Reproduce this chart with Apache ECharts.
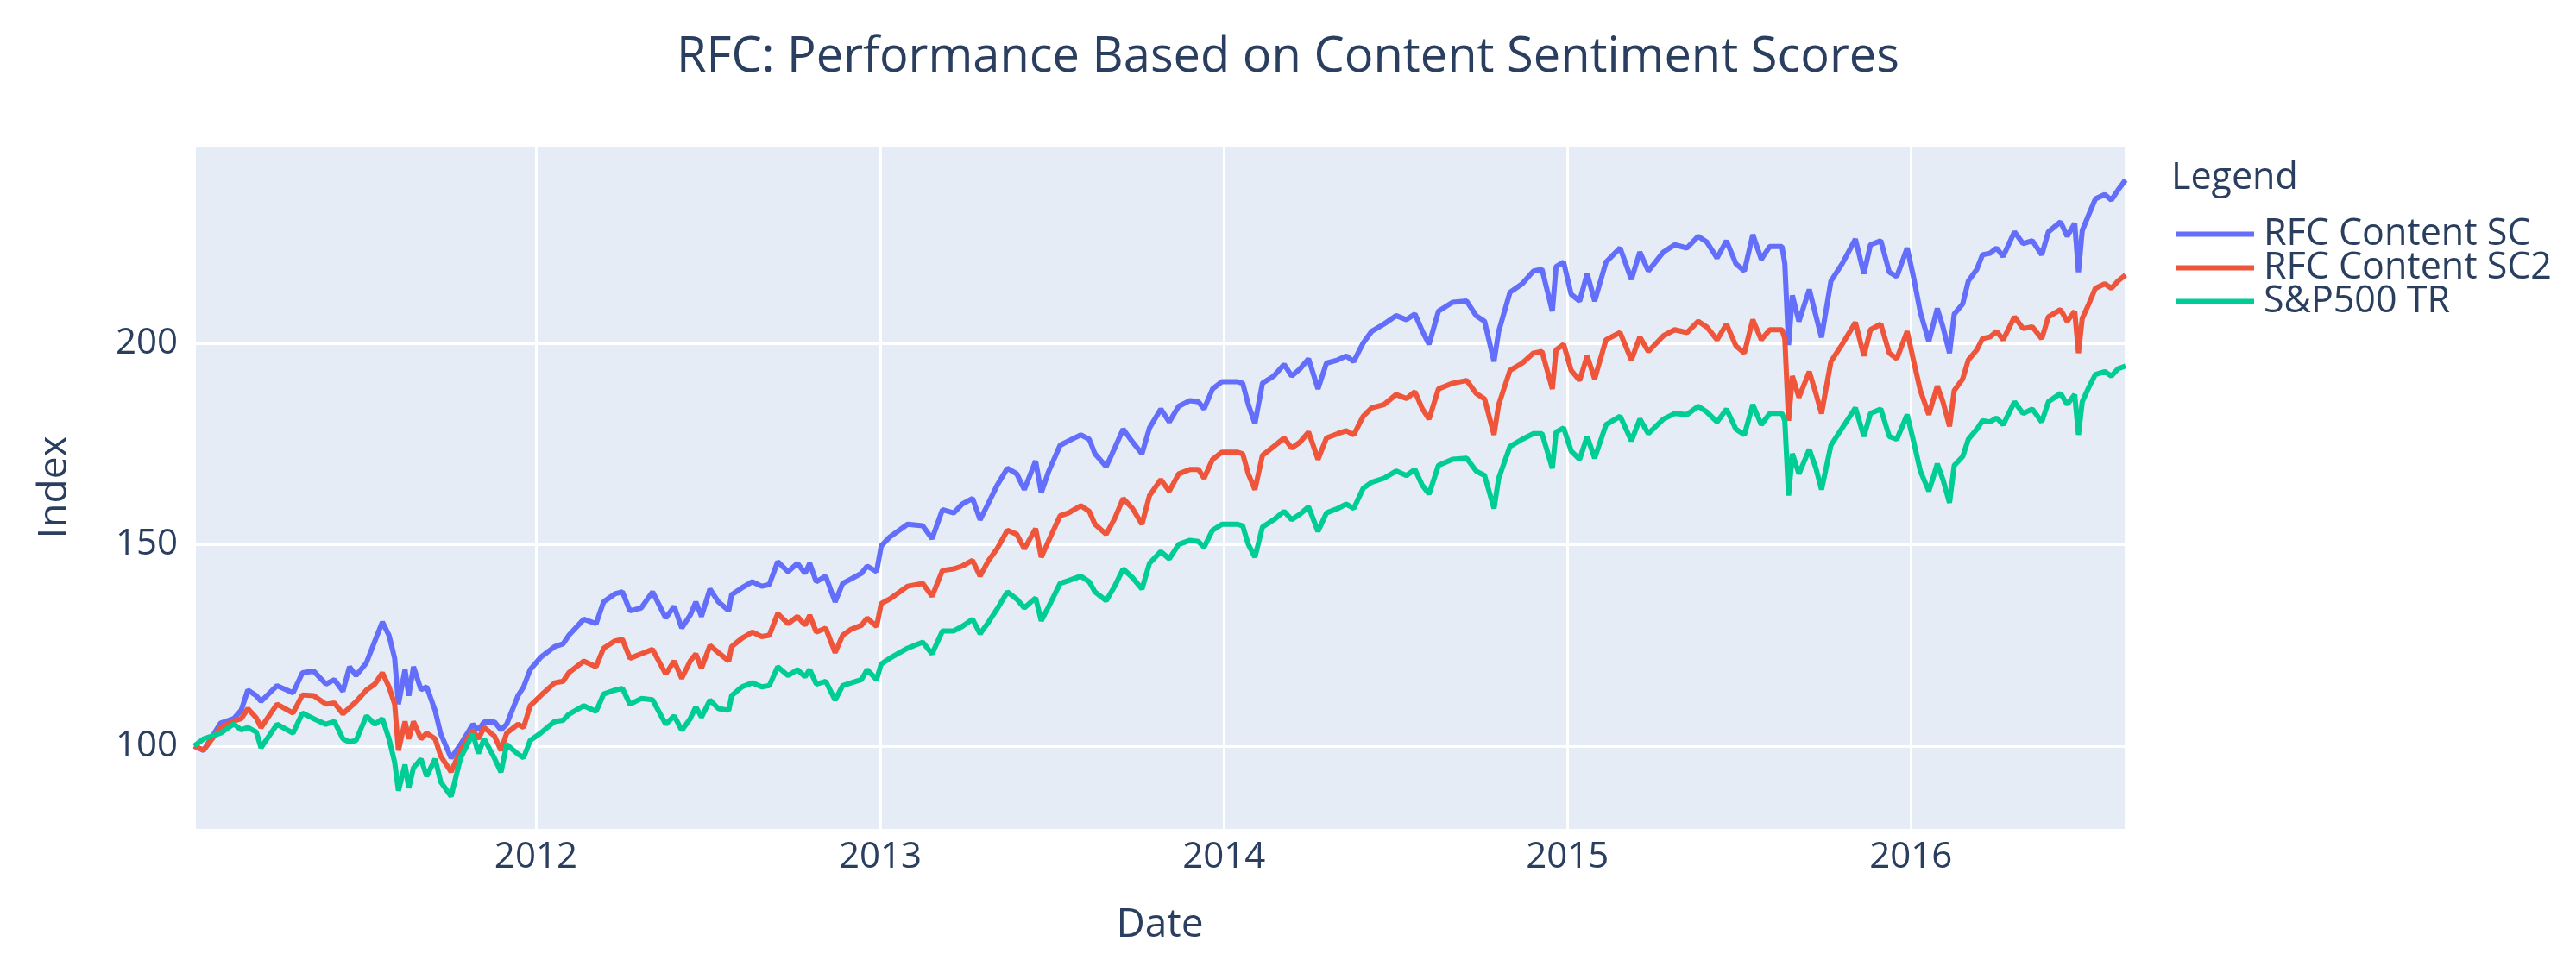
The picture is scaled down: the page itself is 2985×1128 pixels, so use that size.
<!DOCTYPE html>
<html>
<head>
<meta charset="utf-8">
<script src="https://cdn.jsdelivr.net/npm/echarts@6/dist/echarts.min.js"></script>
<style>html,body{margin:0;padding:0;background:#fff}#c{width:2985px;height:1128px}</style>
</head>
<body>
<div id="c"></div>
<script>
// ---- data ----
const seriesNames = ['RFC Content SC', 'RFC Content SC2', 'S&P500 TR'];

const dates2011 = ['2011-01-03','2011-01-13','2011-01-31','2011-02-14','2011-02-22','2011-03-01','2011-03-10','2011-03-15','2011-04-01','2011-04-18','2011-04-28','2011-05-10','2011-05-23','2011-06-01','2011-06-10','2011-06-17','2011-06-24','2011-07-05','2011-07-14','2011-07-22','2011-07-29','2011-08-04','2011-08-08','2011-08-15','2011-08-19','2011-08-24','2011-09-01','2011-09-07','2011-09-16','2011-09-22','2011-10-03','2011-10-13','2011-10-26','2011-11-01','2011-11-07','2011-11-18','2011-11-25','2011-12-01','2011-12-13'];
const sc2011  = [100,98.9,105.7,106.8,108.9,113.9,112.5,111.1,115,113.2,118.2,118.6,115.4,116.5,113.6,119.7,117.5,120.7,126.1,130.8,127.5,121.8,110.4,119,112.5,119.7,114,114.7,108.8,103,97,100.4,105.4,104,106,106,104,105.4,112.5];
const sc2_2011 = [100,99,104.6,106.2,106.8,109.3,107,104.6,110.4,108.2,112.7,112.5,110.4,110.7,108,109.5,111,113.9,115.4,118.2,114.7,110.4,98.9,106.1,101.8,106.1,101.8,103.2,101.8,97.5,93.6,98.9,103.9,101.8,104.6,102.5,98.9,103.2,105.4];
const sp2011  = [100,101.8,103.2,105.5,104,104.6,103.5,99.6,105.4,103.2,108.2,106.8,105.4,106.1,101.8,101,101.4,107.5,105.4,106.8,101.8,96,88.9,95.4,89.6,94.6,96.8,92.5,96.8,91.1,87.5,97,103,98.2,101.8,97,93.5,100.4,98];

const dates2012 = ['2011-12-19','2011-12-26','2012-01-06','2012-01-21','2012-01-30','2012-02-05','2012-02-21','2012-03-05','2012-03-13','2012-03-25','2012-04-02','2012-04-10','2012-04-22','2012-05-04','2012-05-18','2012-05-27','2012-06-04','2012-06-13','2012-06-19','2012-06-25','2012-07-04','2012-07-13','2012-07-24','2012-07-27','2012-08-07','2012-08-18','2012-08-28','2012-09-05','2012-09-14','2012-09-25','2012-10-05','2012-10-13','2012-10-18','2012-10-25','2012-11-04','2012-11-14','2012-11-22','2012-12-01','2012-12-12','2012-12-18','2012-12-28','2013-01-02'];
const sc2012  = [114.7,119,122,124.7,125.4,127.5,131.5,130.4,135.8,137.8,138.3,133.6,134.3,138.3,131.8,134.7,129.3,132.5,135.8,132.2,139,135.8,133.6,137.6,139.3,140.8,139.7,140.1,145.8,143.3,145.4,142.9,145.4,140.8,142.2,135.8,140.4,141.5,142.9,144.7,143.3,149.7];
const sc2_2012 = [104.6,110,112.5,115.7,116.1,118.2,121.1,119.7,124.3,126.1,126.5,121.8,122.9,124,117.9,121.1,116.8,121.1,122.9,119.3,125,123.2,121.1,124.7,126.8,128.3,127.2,127.5,132.9,130.4,132.2,130,132.5,128.3,129.3,123.2,127.5,129,130,131.8,129.7,135.4];
const sp2012  = [97.1,101.4,103.2,106.1,106.4,107.9,110,108.6,112.9,113.9,114.3,110.4,111.8,111.5,105.4,107.5,103.9,106.8,109.7,107.2,111.4,109.3,108.9,112.5,114.7,115.7,114.7,115,119.7,117.5,119,117.2,119,115.4,116.1,111.4,115,115.7,116.5,119,116.5,120.4];

const dates2013 = ['2013-01-11','2013-01-30','2013-02-15','2013-02-25','2013-03-08','2013-03-20','2013-03-29','2013-04-09','2013-04-17','2013-04-26','2013-05-05','2013-05-16','2013-05-26','2013-06-03','2013-06-15','2013-06-21','2013-06-29','2013-07-11','2013-07-20','2013-08-02','2013-08-11','2013-08-17','2013-08-29','2013-09-07','2013-09-16','2013-09-26','2013-10-06','2013-10-14','2013-10-26','2013-11-04','2013-11-14','2013-11-26','2013-12-05','2013-12-11','2013-12-20','2013-12-30'];
const sc2013  = [151.9,155.1,154.7,151.5,158.7,157.9,160.1,161.5,156.2,160.4,164.7,169,167.6,163.7,170.8,162.9,168.3,174.7,175.8,177.3,176.2,172.6,169.4,174,178.7,175.5,172.6,179,183.7,180.5,184.4,185.8,185.5,183.7,188.7,190.5];
const sc2_2013 = [136.5,139.7,140.4,137.2,143.6,144,144.7,146.1,142.2,146.1,149,153.6,152.6,149,154,146.9,151.1,157.2,157.9,159.7,158.3,155.1,152.6,156.5,161.5,159,155.1,162.2,166.2,163.3,167.6,168.7,168.7,166.5,171.2,173];
const sp2013  = [121.8,124.3,125.8,122.9,128.6,128.6,129.7,131.5,127.9,130.8,134,138.3,136.5,134.3,136.8,131.1,134.7,140.4,141.1,142.2,140.8,138.3,136.1,139.7,144,141.8,139,145.4,148.3,146.5,150.1,151.1,150.8,149.4,153.6,155.1];

const dates2014 = ['2014-01-15','2014-01-21','2014-01-27','2014-02-03','2014-02-11','2014-02-23','2014-03-06','2014-03-14','2014-03-23','2014-04-01','2014-04-11','2014-04-20','2014-05-02','2014-05-11','2014-05-19','2014-05-29','2014-06-07','2014-06-20','2014-07-03','2014-07-14','2014-07-23','2014-07-31','2014-08-07','2014-08-17','2014-09-01','2014-09-16','2014-09-26','2014-10-05','2014-10-15','2014-10-20','2014-11-01','2014-11-14','2014-11-26','2014-12-05','2014-12-16','2014-12-20','2014-12-28','2015-01-05'];
const sc2014  = [190.5,190.1,184.8,180.1,190.1,191.9,194.8,191.9,193.7,196.2,188.7,195.1,195.9,196.9,195.5,200.1,203,204.8,206.9,205.9,207.3,203,199.8,208,210.2,210.5,206.9,205.5,195.5,203,212.7,214.8,218,218.4,208,219.1,220.2,212.2];
const sc2_2014 = [173,172.6,167.6,163.7,172.2,174.4,176.5,174,175.5,178,171.2,176.5,177.6,178.3,177.3,181.9,184,184.8,187.3,186.3,188,183.7,181.2,188.7,190.1,190.8,187.6,186.2,177.3,184.8,193.3,195.1,197.6,198,188.7,198.4,199.8,193.3];
const sp2014  = [155.1,154.7,150.1,146.9,154.4,156.2,158.3,156.2,157.6,159.4,153.3,157.9,159,160.1,159,164,165.5,166.5,168.3,167.2,168.7,164.7,162.6,169.7,171.2,171.5,168.3,167.2,159,166.5,174.4,176.2,177.6,177.6,169,178,179,173.3];

const dates2015 = ['2015-01-14','2015-01-22','2015-01-30','2015-02-11','2015-02-26','2015-03-10','2015-03-19','2015-03-28','2015-04-13','2015-04-25','2015-05-08','2015-05-20','2015-05-29','2015-06-09','2015-06-19','2015-06-29','2015-07-08','2015-07-17','2015-07-26','2015-08-04','2015-08-17','2015-08-20','2015-08-24','2015-08-28','2015-09-04','2015-09-15','2015-09-22','2015-09-28','2015-10-08','2015-10-20','2015-11-03','2015-11-12','2015-11-19','2015-11-30','2015-12-09','2015-12-17','2015-12-28'];
const sc2015  = [210.5,217.3,210.5,220.2,223.7,215.9,222.7,218,222.7,224.5,223.7,226.6,225.2,221.2,225.5,219.8,218,227,220.9,224.1,224.1,219.8,199.6,211.9,205.5,213.4,206.9,201.5,215.5,219.8,225.9,217.3,224.5,225.5,217.7,216.6,223.7];
const sc2_2015 = [190.8,196.9,191.2,200.9,202.7,195.9,201.6,198,201.9,203.4,202.7,205.5,204.1,200.9,204.8,199.4,197.6,205.9,200.9,203.4,203.4,201.2,180.8,191.9,186.6,193,187.6,182.6,195.5,199.8,205.2,196.9,203.4,204.8,197.6,196.2,203];
const sp2015  = [171.2,176.9,171.5,179.8,181.9,175.8,181.2,177.6,181.2,182.6,182.3,184.4,183,180.5,183.7,178.7,177.3,184.8,179.8,182.6,182.6,180.8,162.2,172.6,167.6,173.7,169,163.7,174.7,179,184,176.9,182.6,183.7,176.9,176.2,182.3];

const dates2016 = ['2016-01-04','2016-01-11','2016-01-20','2016-01-24','2016-01-29','2016-02-04','2016-02-11','2016-02-16','2016-02-25','2016-03-02','2016-03-11','2016-03-17','2016-03-25','2016-04-01','2016-04-08','2016-04-20','2016-04-29','2016-05-09','2016-05-19','2016-05-26','2016-06-08','2016-06-15','2016-06-23','2016-06-27','2016-07-01','2016-07-08','2016-07-15','2016-07-25','2016-08-01','2016-08-08','2016-08-16'];
const sc2016  = [216.2,207.7,200.5,204.1,208.7,204.1,197.6,207.3,209.8,215.5,218.4,222,222.4,223.7,221.6,227.7,224.8,225.5,222,227.7,230.2,226.6,229.8,217.7,228,232,235.9,237,235.6,238.1,240.6];
const sc2_2016 = [195.5,188.3,182.3,185.5,189.4,185.5,179.4,188.3,191.2,195.9,198.4,201.2,201.6,203,200.9,206.6,203.7,204.1,201.2,206.6,208.4,205.5,208,197.6,206.2,209.8,213.7,214.8,213.7,215.5,217];
const sp2016  = [175.5,168.3,163.3,166.2,170.1,166.2,160.4,169.7,171.9,176.2,178.7,180.8,180.5,181.5,179.8,185.5,182.6,183.7,180.5,185.5,187.6,184.8,187.3,177.3,185.5,189.1,192.3,193,191.9,193.7,194.4];

const yTicks = [100, 150, 200];
const xStart = '2011-01-03';
const xEnd = '2016-08-16';
const yMin = 79.2;
const yMax = 249.3;

// ---- build ----
const dates = [].concat(dates2011, dates2012, dates2013, dates2014, dates2015, dates2016);
const sc = [].concat(sc2011, sc2012, sc2013, sc2014, sc2015, sc2016);
const sc2 = [].concat(sc2_2011, sc2_2012, sc2_2013, sc2_2014, sc2_2015, sc2_2016);
const sp = [].concat(sp2011, sp2012, sp2013, sp2014, sp2015, sp2016);
const values = [sc, sc2, sp];
const colors = ['#636efa', '#EF553B', '#00cc96'];
const FONT = 'Open Sans';
const TXT = '#2a3f5f';

const chart = echarts.init(document.getElementById('c'), null, {renderer: 'canvas'});
const DAY = 86400000;
chart.setOption({
  animation: false,
  backgroundColor: '#ffffff',
  textStyle: {fontFamily: FONT, color: TXT},
  title: [
    {text: 'RFC: Performance Based on Content Sentiment Scores', left: 'center', top: 39, padding: 0,
     textStyle: {fontFamily: FONT, fontSize: 56, fontWeight: 'normal', color: TXT}},
    {text: 'Legend', left: 2516, top: 185, padding: 0,
     textStyle: {fontFamily: FONT, fontSize: 43, fontWeight: 'normal', color: TXT}}
  ],
  legend: {
    orient: 'vertical', left: 2522, top: 250, padding: 0,
    itemWidth: 90, itemHeight: 6, itemGap: -4, icon: 'rect',
    data: seriesNames,
    textStyle: {fontFamily: FONT, fontSize: 43, color: TXT, lineHeight: 42, padding: [0, 0, 0, 6]}
  },
  grid: {left: 225, right: 522, top: 168, bottom: 166, show: true, backgroundColor: '#E5ECF6', borderWidth: 0},
  xAxis: {
    type: 'time', min: xStart, max: xEnd,
    minInterval: 365 * DAY, maxInterval: 366 * DAY,
    name: 'Date', nameLocation: 'middle', nameGap: 88,
    nameTextStyle: {fontFamily: FONT, fontSize: 46, color: TXT},
    axisLine: {show: false}, axisTick: {show: false},
    axisLabel: {formatter: '{yyyy}', fontFamily: FONT, fontSize: 42, color: TXT, margin: 11},
    splitLine: {show: true, lineStyle: {color: '#ffffff', width: 3}}
  },
  yAxis: {
    type: 'value', min: yMin, max: yMax, splitNumber: 3,
    name: 'Index', nameLocation: 'middle', nameGap: 138,
    nameTextStyle: {fontFamily: FONT, fontSize: 46, color: TXT},
    axisLine: {show: false}, axisTick: {show: false},
    axisLabel: {fontFamily: FONT, fontSize: 42, color: TXT, margin: 19,
      showMinLabel: false, showMaxLabel: false,
      formatter: v => yTicks.indexOf(v) >= 0 ? String(v) : ''},
    splitLine: {show: true, lineStyle: {color: '#ffffff', width: 3}}
  },
  series: seriesNames.map((n, k) => ({
    name: n, type: 'line', showSymbol: false, symbol: 'none',
    lineStyle: {width: 6, color: colors[k]}, itemStyle: {color: colors[k]},
    data: dates.map((d, i) => [d, values[k][i]])
  }))
});
</script>
</body>
</html>
